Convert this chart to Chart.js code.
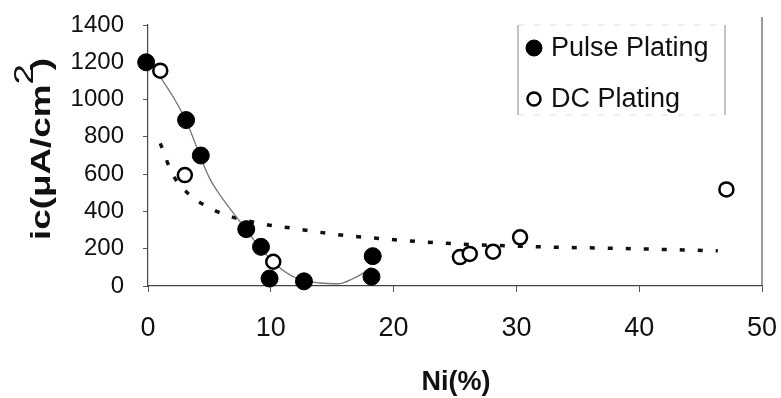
<!DOCTYPE html>
<html>
<head>
<meta charset="utf-8">
<script src="https://cdn.jsdelivr.net/npm/chart.js@4.4.0/dist/chart.umd.min.js"></script>
<style>
    html, body { margin: 0; padding: 0; background: #fff; }
    #wrap { width: 781px; height: 398px; }
</style>
</head>
<body>
<div id="wrap"><canvas id="chart-ic" width="781" height="398"></canvas></div>
<script>
// measured points (Ni %, ic in uA/cm2)
const pulseX = [-0.15, 3.1, 4.3, 8.0, 9.2, 9.9, 12.7, 18.2, 18.3];
const pulseY = [1200, 890, 700, 305, 210, 40, 25, 50, 160];
const dcX = [1.0, 3.0, 10.2, 25.4, 26.2, 28.1, 30.3, 47.1];
const dcY = [1155, 595, 130, 155, 172, 184, 261, 518];

// trend curves
const pulseFitX = [0, 1, 3, 5, 6, 7.5, 9, 10.5, 12, 14, 15.5, 16.7, 17.5, 18.2];
const pulseFitY = [1200, 1120, 900, 580, 475, 345, 215, 110, 45, 16, 12, 40, 68, 100];
const dcFitX = [1, 2, 3.4, 4.9, 6.4, 9.4, 12, 15, 19.7, 24.3, 31.4, 38, 46.4];
const dcFitY = [765, 600, 488, 423, 380, 332, 308, 279, 250, 229, 211, 202, 189];

const xTicks = [0, 10, 20, 30, 40, 50];
const yTicks = [0, 200, 400, 600, 800, 1000, 1200, 1400];

const FONT = '"Liberation Sans", Arial, sans-serif';

function toPoints(xs, ys) {
    return xs.map((x, i) => ({ x: x, y: ys[i] }));
}

// titles, legend box and right frame line
const decorPlugin = {
    id: 'decor',
    afterDraw(chart) {
        const ctx = chart.ctx;
        const area = chart.chartArea;

        // right frame line
        ctx.save();
        ctx.strokeStyle = '#555';
        ctx.lineWidth = 1.2;
        ctx.beginPath();
        ctx.moveTo(area.right, 17);
        ctx.lineTo(area.right, area.bottom);
        ctx.stroke();
        ctx.restore();

        // y title with superscript
        ctx.save();
        ctx.fillStyle = '#111';
        ctx.textBaseline = 'alphabetic';
        ctx.translate(50, 240);
        ctx.rotate(-Math.PI / 2);
        const main = 'ic(μA/cm', sup = '2', close = ')';
        ctx.font = 'bold 28px ' + FONT;
        const w1 = ctx.measureText(main).width;
        const w3 = ctx.measureText(close).width;
        ctx.font = '28px ' + FONT;
        const w2 = ctx.measureText(sup).width;
        ctx.scale(182 / (w1 + w2 * 0.7 + w3), 1);
        ctx.font = 'bold 28px ' + FONT;
        ctx.fillText(main, 0, 0);
        ctx.fillText(close, w1 + w2 * 0.7, 0);
        ctx.font = '28px ' + FONT;
        ctx.fillText(sup, w1, -17);
        ctx.restore();

        // x title
        ctx.save();
        ctx.fillStyle = '#111';
        ctx.font = 'bold 27px ' + FONT;
        ctx.textAlign = 'center';
        ctx.textBaseline = 'alphabetic';
        ctx.fillText('Ni(%)', 456, 390);
        ctx.restore();

        // legend box
        ctx.save();
        ctx.strokeStyle = '#888';
        ctx.lineWidth = 1;
        ctx.beginPath();
        ctx.moveTo(518, 25); ctx.lineTo(518, 115);
        ctx.moveTo(725, 25); ctx.lineTo(725, 115);
        ctx.stroke();
        ctx.strokeStyle = '#ddd';
        ctx.setLineDash([6, 10]);
        ctx.beginPath();
        ctx.moveTo(518, 25); ctx.lineTo(725, 25);
        ctx.moveTo(518, 115); ctx.lineTo(725, 115);
        ctx.stroke();
        ctx.restore();

        const rows = chart.data.datasets.filter(d => !d.showLine);
        rows.forEach((ds, i) => {
            const cy = 48 + i * 51;
            ctx.save();
            ctx.beginPath();
            ctx.arc(534, cy, i === 0 ? 8 : 6.5, 0, Math.PI * 2);
            ctx.fillStyle = ds.pointBackgroundColor;
            ctx.fill();
            ctx.lineWidth = ds.pointBorderWidth;
            ctx.strokeStyle = ds.pointBorderColor;
            ctx.stroke();
            ctx.fillStyle = '#111';
            ctx.font = '27px ' + FONT;
            ctx.textBaseline = 'middle';
            ctx.fillText(ds.label, 551, cy + 1);
            ctx.restore();
        });
    }
};

new Chart(document.getElementById('chart-ic'), {
    type: 'scatter',
    data: {
        datasets: [
            {
                label: 'Pulse Plating',
                data: toPoints(pulseX, pulseY),
                pointRadius: 8.5,
                pointBackgroundColor: '#000',
                pointBorderColor: '#000',
                pointBorderWidth: 1,
                clip: false
            },
            {
                label: 'DC Plating',
                data: toPoints(dcX, dcY),
                pointRadius: 7,
                pointBackgroundColor: '#fff',
                pointBorderColor: '#000',
                pointBorderWidth: 2.5,
                clip: false
            },
            {
                label: 'pulse fit',
                data: toPoints(pulseFitX, pulseFitY),
                showLine: true,
                pointRadius: 0,
                borderColor: '#777',
                borderWidth: 1.3,
                cubicInterpolationMode: 'monotone',
                clip: false
            },
            {
                label: 'dc fit',
                data: toPoints(dcFitX, dcFitY),
                showLine: true,
                pointRadius: 0,
                borderColor: '#111',
                borderWidth: 3.5,
                borderDash: [5, 13],
                cubicInterpolationMode: 'monotone',
                clip: false
            }
        ]
    },
    options: {
        responsive: false,
        animation: false,
        devicePixelRatio: 1,
        layout: {
            padding: { top: 25, right: 19, left: 0, bottom: 0 }
        },
        plugins: {
            legend: { display: false },
            tooltip: { enabled: false }
        },
        scales: {
            x: {
                type: 'linear',
                min: 0,
                max: 50,
                afterBuildTicks: scale => { scale.ticks = xTicks.map(v => ({ value: v })); },
                afterFit: scale => {
                    scale.height = 112;
                    scale.paddingLeft = 0;
                    scale.paddingRight = 0;
                },
                grid: { drawOnChartArea: false, drawTicks: true, tickLength: 6, color: '#555' },
                border: { color: '#444', width: 1.2 },
                ticks: {
                    color: '#111',
                    padding: 20,
                    maxRotation: 0,
                    font: { family: FONT, size: 27 },
                    callback: v => String(v)
                }
            },
            y: {
                type: 'linear',
                min: 0,
                max: 1400,
                afterBuildTicks: scale => { scale.ticks = yTicks.map(v => ({ value: v })); },
                afterFit: scale => {
                    scale.width = 148;
                    scale.paddingTop = 0;
                    scale.paddingBottom = 0;
                },
                grid: { drawOnChartArea: false, drawTicks: true, tickLength: 5, color: '#555' },
                border: { color: '#444', width: 1.2 },
                ticks: {
                    color: '#111',
                    padding: 19,
                    font: { family: FONT, size: 24 },
                    callback: v => String(v)
                }
            }
        }
    },
    plugins: [decorPlugin]
});
</script>
</body>
</html>
